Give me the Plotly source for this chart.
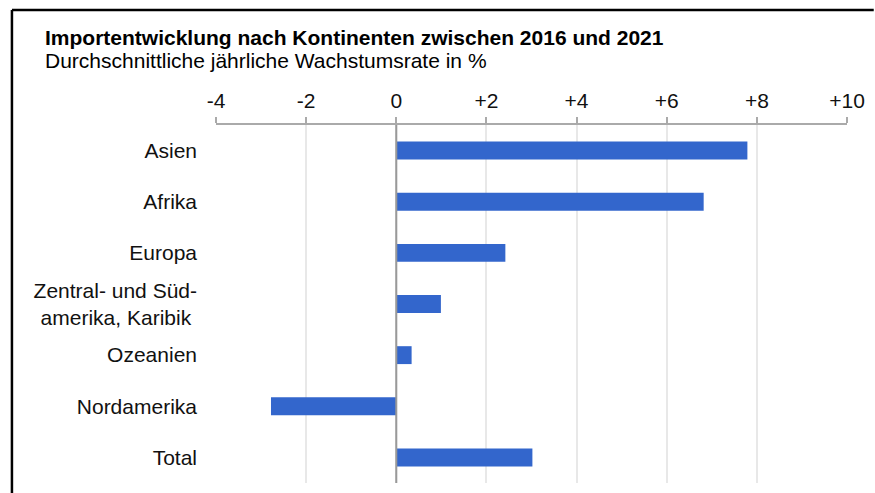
import plotly.graph_objects as go

categories = ["Asien", "Afrika", "Europa", "Zentral- und Süd-<br>amerika, Karibik\u00a0", "Ozeanien", "Nordamerika", "Total"]
values = [7.79, 6.82, 2.42, 0.99, 0.34, -2.78, 3.02]
tick_vals = [-4, -2, 0, 2, 4, 6, 8, 10]
tick_text = ["-4", "-2", "0", "+2", "+4", "+6", "+8", "+10"]

title = "Importentwicklung nach Kontinenten zwischen 2016 und 2021"
subtitle = "Durchschnittliche jährliche Wachstumsrate in %"

FONT = "Arial, Liberation Sans, sans-serif"
W, H = 875, 493
ML, MR, MT, MB = 216, 22, 125, 10
PW, PH = W - ML - MR, H - MT - MB

def px_x(p):
    return (p - ML) / PW

def px_y(p):
    return (H - MB - p) / PH

fig = go.Figure(go.Bar(
    x=values, y=categories, orientation="h",
    marker=dict(color="#3366cc", line=dict(width=0)),
    width=0.35, hoverinfo="x+y",
))

fig.update_layout(
    width=W, height=H,
    margin=dict(l=ML, r=MR, t=MT, b=MB),
    paper_bgcolor="white", plot_bgcolor="white",
    font=dict(family=FONT, color="#111111", size=21),
    showlegend=False,
    xaxis=dict(
        side="top", range=[-4, 10], tickvals=tick_vals, ticktext=tick_text,
        showgrid=True, gridcolor="#e8e8e8", gridwidth=1.5,
        zeroline=False, showline=True, linecolor="#aaaaaa", linewidth=2,
        ticks="outside", ticklen=6, tickcolor="#aaaaaa", tickwidth=1.5,
        tickfont=dict(size=21, color="#111111"), ticklabelstandoff=1,
        fixedrange=True,
    ),
    yaxis=dict(
        autorange="reversed", showgrid=False, zeroline=False, showline=False,
        ticks="", tickfont=dict(size=21, color="#111111"), ticklabelstandoff=18,
        fixedrange=True,
    ),
    shapes=[
        dict(type="line", xref="x", yref="paper", x0=0, x1=0, y0=0, y1=1,
             line=dict(color="#999999", width=2), layer="above"),
        dict(type="line", xref="paper", yref="paper", x0=px_x(10), x1=px_x(W + 5),
             y0=px_y(10), y1=px_y(10), line=dict(color="black", width=2.5)),
        dict(type="line", xref="paper", yref="paper", x0=px_x(10), x1=px_x(10),
             y0=px_y(10), y1=px_y(H + 5), line=dict(color="black", width=2.5)),
    ],
    annotations=[
        dict(text="<b>" + title + "</b>", xref="paper", yref="paper",
             x=px_x(41), y=px_y(37), xanchor="left", yanchor="middle",
             showarrow=False, font=dict(size=21, color="black", family=FONT)),
        dict(text=subtitle, xref="paper", yref="paper",
             x=px_x(41), y=px_y(61), xanchor="left", yanchor="middle",
             showarrow=False, font=dict(size=21, color="black", family=FONT)),
    ],
)

fig.write_html(
    "out.html",
    config={"displayModeBar": False},
    post_script="document.body.style.margin='0';document.body.style.padding='0';",
)
